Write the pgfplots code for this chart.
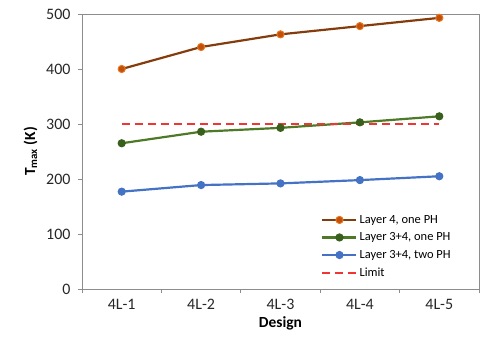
\documentclass[border=0pt]{standalone}
\usepackage{pgfplots}
\pgfplotsset{compat=1.18}
\usepackage{fontspec}
\setmainfont{Carlito}
\definecolor{brownline}{HTML}{843C0C}
\definecolor{orangemark}{HTML}{E8741E}
\definecolor{orangefill}{HTML}{C0500A}
\definecolor{greenline}{HTML}{4E7A27}
\definecolor{greenmark}{HTML}{385F1C}
\definecolor{blueline}{HTML}{4472C4}
\definecolor{limitred}{HTML}{F03535}
\definecolor{axisgray}{HTML}{8C8C8C}
\begin{document}
\begin{tikzpicture}
\begin{axis}[
  scale only axis,
  width=397bp, height=275bp,
  xmin=-0.5, xmax=4.5,
  ymin=0, ymax=500,
  xtick={0,1,2,3,4},
  xticklabels={4L-1,4L-2,4L-3,4L-4,4L-5},
  major x tick style={draw=none},
  minor xtick={-0.5,0.5,1.5,2.5,3.5,4.5},
  ytick={0,100,200,300,400,500},
  tick align=outside,
  tick pos=left,
  major tick length=4bp,
  minor tick length=4bp,
  axis line style={axisgray, line width=1pt},
  every tick/.style={axisgray, line width=1pt},
  tick label style={font=\fontsize{16}{18}\selectfont, text=black!85},
  xticklabel style={yshift=-3bp},
  yticklabel style={xshift=-4bp},
  /pgf/number format/assume math mode=true,
  xlabel={\textbf{Design}},
  ylabel={\textbf{T\textsubscript{max} (K)}},
  label style={font=\fontsize{15.5}{18}\selectfont},
  xlabel style={yshift=0bp},
  ylabel style={yshift=2bp},
  legend style={draw=none, fill=none, at={(0.6,0.28)}, anchor=north west,
    font=\fontsize{12.5}{14}\selectfont, row sep=4bp, inner sep=1bp,
    legend cell align=left},
  legend image code/.code={\draw[mark repeat=2,mark phase=2] plot coordinates {(0bp,0bp) (17bp,0bp) (34bp,0bp)};},
]
\addplot[brownline, line width=2.2pt, mark=*, mark size=3.6pt,
  mark options={draw=orangemark, fill=orangefill, line width=1pt}]
  coordinates {(0,400) (1,440) (2,463) (3,478) (4,493)};
\addlegendentry{Layer 4, one PH}
\addplot[greenline, line width=2.2pt, mark=*, mark size=3.6pt,
  mark options={draw=greenmark, fill=greenmark, line width=1pt}]
  coordinates {(0,265) (1,286) (2,293) (3,303) (4,314)};
\addlegendentry{Layer 3+4, one PH}
\addplot[blueline, line width=2.2pt, mark=*, mark size=3.6pt,
  mark options={draw=blueline, fill=blueline, line width=1pt}]
  coordinates {(0,177) (1,189) (2,192) (3,198) (4,205)};
\addlegendentry{Layer 3+4, two PH}
\addplot[limitred, line width=1.6pt, dash pattern=on 8bp off 5bp]
  coordinates {(0,300) (4,300)};
\addlegendentry{Limit}
\end{axis}
\path (current axis.south west) ++(-82bp,-63bp) rectangle ++(487bp,352bp);
\end{tikzpicture}
\end{document}
